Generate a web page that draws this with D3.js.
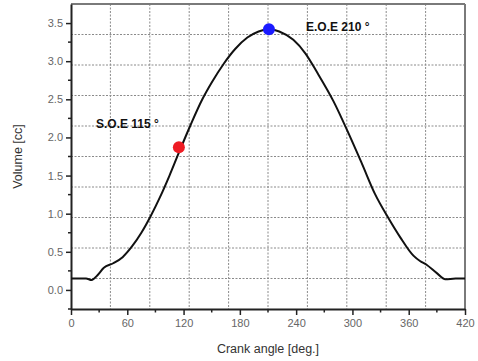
<!DOCTYPE html>
<html>
<head>
<meta charset="utf-8">
<script src="https://cdn.jsdelivr.net/npm/d3@7"></script>
<style>
  body { margin: 0; background: #fff; }
  svg { display: block; font-family: "Liberation Sans", Arial, sans-serif; }
</style>
</head>
<body>
<div id="chart"></div>
<script>
// Curve
const angles  = [0, 10, 16, 22, 28, 35, 45, 55, 65, 75, 85, 95, 105, 115, 127, 140, 150, 163, 175, 188, 200, 211, 222, 237, 250, 262, 280, 296, 310, 324, 338, 351, 365, 372, 379, 390, 399, 410, 420];
const volumes = [0.15, 0.15, 0.15, 0.13, 0.19, 0.29, 0.35, 0.43, 0.57, 0.75, 0.97, 1.22, 1.50, 1.80, 2.15, 2.50, 2.72, 2.97, 3.16, 3.31, 3.39, 3.42, 3.39, 3.28, 3.10, 2.86, 2.47, 2.05, 1.66, 1.26, 0.95, 0.69, 0.45, 0.38, 0.33, 0.22, 0.14, 0.15, 0.15];

// Marked points
const markNames  = ['S.O.E 115 °', 'E.O.E 210 °'];
const markAngles = [115, 211];
const markVols   = [1.87, 3.42];
const markColors = ['#ee1c24', '#1a1aff'];

// Ticks and grid
const xTicks = [0, 60, 120, 180, 240, 300, 360, 420];
const xMinor = [30, 90, 150, 210, 270, 330, 390];
const yTicks = [0.0, 0.5, 1.0, 1.5, 2.0, 2.5, 3.0, 3.5];
const yMinor = [-0.25, 0.25, 0.75, 1.25, 1.75, 2.25, 2.75, 3.25];
const xGrid = [42, 84, 126, 168, 210, 252, 294, 336, 378];
const yGrid = [0.15, 0.55, 0.95, 1.35, 1.75, 2.15, 2.55, 2.95, 3.35];

const width = 478, height = 361;
const margin = {top: 4, right: 13, bottom: 52, left: 71};

const svg = d3.select('#chart').append('svg')
    .attr('width', width)
    .attr('height', height);

const x = d3.scaleLinear().domain([0, 420]).range([margin.left, width - margin.right]);
const y = d3.scaleLinear().domain([-0.25, 3.75]).range([height - margin.bottom, margin.top]);

// grid
svg.append('g').selectAll('line')
    .data(xGrid)
    .join('line')
    .attr('x1', d => x(d)).attr('x2', d => x(d))
    .attr('y1', y(3.75)).attr('y2', y(-0.25))
    .attr('stroke', '#8a8a8a')
    .attr('stroke-width', 1)
    .attr('stroke-dasharray', '2,1.5');

svg.append('g').selectAll('line')
    .data(yGrid)
    .join('line')
    .attr('y1', d => y(d)).attr('y2', d => y(d))
    .attr('x1', x(0)).attr('x2', x(420))
    .attr('stroke', '#8a8a8a')
    .attr('stroke-width', 1)
    .attr('stroke-dasharray', '2,1.5');

// frame top/right
svg.append('line')
    .attr('x1', x(0)).attr('x2', x(420))
    .attr('y1', y(3.75)).attr('y2', y(3.75))
    .attr('stroke', '#7a7a7a').attr('stroke-width', 2);
svg.append('line')
    .attr('x1', x(420)).attr('x2', x(420))
    .attr('y1', y(3.75)).attr('y2', y(-0.25))
    .attr('stroke', '#7a7a7a').attr('stroke-width', 2);

// x axis
const xAxis = d3.axisBottom(x).tickValues(xTicks).tickSize(6).tickSizeOuter(0).tickPadding(4);
const gx = svg.append('g')
    .attr('transform', `translate(0, ${y(-0.25)})`)
    .call(xAxis);
gx.select('.domain').attr('stroke', '#222').attr('stroke-width', 2);
gx.selectAll('.tick line').attr('stroke', '#222').attr('stroke-width', 1.5);
gx.selectAll('.tick text').attr('fill', '#666').style('font-size', '11px');
svg.append('g').selectAll('line')
    .data(xMinor)
    .join('line')
    .attr('x1', d => x(d)).attr('x2', d => x(d))
    .attr('y1', y(-0.25)).attr('y2', y(-0.25) + 3.5)
    .attr('stroke', '#222').attr('stroke-width', 1.5);

// y axis
const yAxis = d3.axisLeft(y).tickValues(yTicks).tickFormat(d3.format('.1f')).tickSize(5).tickSizeOuter(0).tickPadding(3);
const gy = svg.append('g')
    .attr('transform', `translate(${x(0)}, 0)`)
    .call(yAxis);
gy.select('.domain').attr('stroke', '#222').attr('stroke-width', 2);
gy.selectAll('.tick line').attr('stroke', '#222').attr('stroke-width', 1.5);
gy.selectAll('.tick text').attr('fill', '#666').style('font-size', '11px');
svg.append('g').selectAll('line')
    .data(yMinor)
    .join('line')
    .attr('y1', d => y(d)).attr('y2', d => y(d))
    .attr('x1', x(0)).attr('x2', x(0) - 3)
    .attr('stroke', '#222').attr('stroke-width', 1.5);

// axis titles
svg.append('text')
    .attr('x', (x(0) + x(420)) / 2)
    .attr('y', 353)
    .attr('text-anchor', 'middle')
    .attr('fill', '#333')
    .style('font-size', '12.5px')
    .text('Crank angle [deg.]');

svg.append('text')
    .attr('transform', `translate(22, ${y(1.75)}) rotate(-90)`)
    .attr('text-anchor', 'middle')
    .attr('fill', '#333')
    .style('font-size', '12.5px')
    .text('Volume [cc]');

// curve
const pts = angles.map((a, i) => [a, volumes[i]]);
const line = d3.line()
    .x(d => x(d[0]))
    .y(d => y(d[1]))
    .curve(d3.curveMonotoneX);

svg.append('path')
    .datum(pts)
    .attr('d', line)
    .attr('fill', 'none')
    .attr('stroke', '#111')
    .attr('stroke-width', 2);

// marked points + labels
svg.append('g').selectAll('circle')
    .data(markAngles)
    .join('circle')
    .attr('cx', d => x(d))
    .attr('cy', (d, i) => y(markVols[i]))
    .attr('r', 6)
    .attr('fill', (d, i) => markColors[i]);

const labelAt = [[96, 128], [306, 31]];
svg.append('g').selectAll('text')
    .data(markNames)
    .join('text')
    .attr('x', (d, i) => labelAt[i][0])
    .attr('y', (d, i) => labelAt[i][1])
    .attr('fill', '#111')
    .style('font-size', '12px')
    .style('font-weight', 'bold')
    .text(d => d);
</script>
</body>
</html>
